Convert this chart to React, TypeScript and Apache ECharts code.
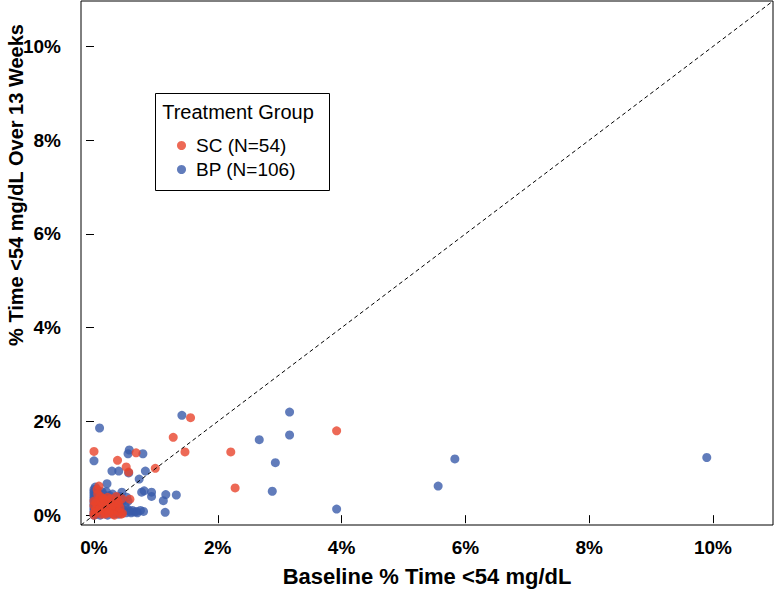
import React, { useEffect, useRef } from "react";
import * as echarts from "echarts";

// Treatment group SC (N=54): [baseline %, % over 13 weeks]
const scPoints: number[][] = [
  [1.56, 2.08], [1.28, 1.66], [0.0, 1.36], [0.68, 1.33], [1.47, 1.35], [2.21, 1.35],
  [0.38, 1.17], [0.52, 1.03], [0.56, 0.92], [0.99, 1.0], [2.28, 0.58], [3.92, 1.8],
  [0.08, 0.62], [0.05, 0.55], [0.58, 0.34], [0.44, 0.02], [0.45, 0.35], [0.46, 0.04],
  [0.0, 0.0], [0.0, 0.05], [0.02, 0.1], [0.05, 0.18], [0.03, 0.27], [0.08, 0.33],
  [0.1, 0.4], [0.12, 0.02], [0.15, 0.1], [0.14, 0.22], [0.18, 0.3], [0.2, 0.06],
  [0.22, 0.15], [0.25, 0.25], [0.27, 0.35], [0.3, 0.03], [0.32, 0.12], [0.35, 0.2],
  [0.38, 0.3], [0.4, 0.08], [0.42, 0.16], [0.0, 0.2], [0.0, 0.3], [0.05, 0.08],
  [0.1, 0.14], [0.12, 0.28], [0.18, 0.02], [0.22, 0.38], [0.28, 0.1], [0.33, 0.0],
  [0.36, 0.4], [0.06, 0.45], [0.24, 0.05], [0.3, 0.22], [0.4, 0.25], [0.15, 0.36],
];

// Treatment group BP (N=106)
const bpPoints: number[][] = [
  [1.42, 2.13], [0.09, 1.86], [3.16, 2.2], [3.16, 1.71], [2.67, 1.61], [2.93, 1.12],
  [2.88, 0.51], [3.92, 0.13], [5.56, 0.62], [5.83, 1.2], [9.9, 1.23], [0.57, 1.39],
  [0.55, 1.31], [0.79, 1.31], [0.0, 1.16], [0.29, 0.94], [0.4, 0.94], [0.56, 0.9],
  [0.83, 0.94], [0.73, 0.77], [0.21, 0.67], [0.45, 0.49], [0.77, 0.49], [0.81, 0.52],
  [0.93, 0.49], [0.93, 0.4], [1.12, 0.31], [1.16, 0.44], [1.33, 0.43], [0.53, 0.38],
  [0.55, 0.3], [0.36, 0.38], [1.15, 0.06], [0.47, 0.08], [0.58, 0.08], [0.69, 0.08],
  [0.8, 0.08], [0.36, 0.1],
  [0, 0], [0, 0.05], [0, 0.1], [0, 0.15], [0, 0.2], [0, 0.25], [0, 0.3], [0, 0.35],
  [0, 0.4], [0, 0.45], [0, 0.5], [0, 0.55], [0.02, 0.6], [0.03, 0.02], [0.04, 0.12],
  [0.03, 0.22], [0.04, 0.32], [0.03, 0.42], [0.05, 0.52], [0.06, 0.07], [0.07, 0.17],
  [0.08, 0.27], [0.07, 0.37], [0.08, 0.47], [0.1, 0.0], [0.11, 0.1], [0.1, 0.2],
  [0.12, 0.3], [0.11, 0.4], [0.13, 0.5], [0.14, 0.05], [0.15, 0.15], [0.16, 0.25],
  [0.15, 0.45], [0.18, 0.1], [0.19, 0.2], [0.2, 0.35], [0.2, 0.5], [0.22, 0.0],
  [0.23, 0.12], [0.24, 0.28], [0.25, 0.42], [0.27, 0.06], [0.28, 0.18], [0.29, 0.32],
  [0.3, 0.45], [0.32, 0.02], [0.33, 0.14], [0.34, 0.26], [0.35, 0.05], [0.37, 0.2],
  [0.38, 0.3], [0.4, 0.02], [0.41, 0.12], [0.42, 0.4], [0.44, 0.22], [0.46, 0.32],
  [0.48, 0.1], [0.5, 0.2], [0.52, 0.05], [0.55, 0.12], [0.6, 0.05], [0.62, 0.1],
  [0.65, 0.07], [0.7, 0.05], [0.75, 0.1], [0.02, 0.08], [0.06, 0.3],
];

const tickValues = [0, 2, 4, 6, 8, 10];
const axisMin = -0.21;
const axisMax = 10.97;
const identityLine = [[axisMin, axisMin], [axisMax, axisMax]];

const seriesNames = ["SC (N=54)", "BP (N=106)"];
const legendTitle = "Treatment Group";
const xTitle = "Baseline % Time <54 mg/dL";
const yTitle = "% Time <54 mg/dL Over 13 Weeks";

const RED = "#E8432C";
const BLUE = "#3A5BAA";
const FONT = "'Liberation Sans', Arial, Helvetica, sans-serif";

export default function App() {
  const ref = useRef<HTMLDivElement>(null);
  useEffect(() => {
    if (!ref.current) return;
    const chart = echarts.init(ref.current, undefined, { renderer: "svg" });
    const axisCommon = {
      type: "value" as const,
      min: axisMin,
      max: axisMax,
      axisLine: { show: false },
      splitLine: { show: false },
      axisTick: {
        show: true,
        inside: false,
        length: 8,
        customValues: tickValues,
        lineStyle: { color: "#000", width: 1 },
      },
    };
    const labelCommon = {
      customValues: tickValues,
      formatter: (v: number) => `${v}%`,
      fontFamily: FONT,
      fontWeight: "bold",
      fontSize: 19,
      color: "#000",
    };
    chart.setOption({
      animation: false,
      backgroundColor: "#fff",
      grid: {
        left: 81,
        right: 2,
        top: 1,
        bottom: 65,
        show: true,
        borderColor: "#000",
        borderWidth: 1,
        backgroundColor: "transparent",
      },
      xAxis: {
        ...axisCommon,
        name: xTitle,
        nameLocation: "middle",
        nameGap: 40,
        nameTextStyle: { fontFamily: FONT, fontWeight: "bold", fontSize: 22, color: "#000" },
        axisLabel: { ...labelCommon, margin: 13 },
      },
      yAxis: {
        ...axisCommon,
        axisLabel: { ...labelCommon, margin: 20 },
      },
      legend: {
        data: seriesNames,
        orient: "vertical",
        left: 172,
        top: 131,
        itemGap: 5,
        itemWidth: 9,
        itemHeight: 9,
        icon: "circle",
        z: 10,
        textStyle: { fontFamily: FONT, fontSize: 19, color: "#000", padding: [0, 0, 0, 5] },
      },
      graphic: [
        {
          type: "rect",
          shape: { x: 155.5, y: 93.5, width: 174, height: 97 },
          style: { fill: "#fff", stroke: "#000", lineWidth: 1 },
          z: 5,
        },
        {
          type: "text",
          x: 238,
          y: 112,
          style: {
            text: legendTitle,
            font: `20px ${FONT}`,
            fill: "#000",
            textAlign: "center",
            textVerticalAlign: "middle",
          },
          z: 6,
        },
        {
          type: "text",
          x: 16,
          y: 185,
          rotation: Math.PI / 2,
          style: {
            text: yTitle,
            font: `bold 20px ${FONT}`,
            fill: "#000",
            textAlign: "center",
            textVerticalAlign: "middle",
          },
        },
      ],
      series: [
        {
          name: seriesNames[1],
          type: "scatter",
          data: bpPoints,
          symbol: "circle",
          symbolSize: 9,
          itemStyle: { color: BLUE },
          z: 2,
        },
        {
          name: seriesNames[0],
          type: "scatter",
          data: scPoints,
          symbol: "circle",
          symbolSize: 9,
          itemStyle: { color: RED },
          z: 3,
        },
        {
          type: "line",
          data: identityLine,
          symbol: "none",
          silent: true,
          lineStyle: { color: "#000", width: 1, type: [4, 3] },
          z: 4,
        },
      ],
    });
    return () => chart.dispose();
  }, []);
  return (
    <div
      ref={ref}
      style={{ position: "fixed", left: 0, top: 0, width: 775, height: 592 }}
    />
  );
}
